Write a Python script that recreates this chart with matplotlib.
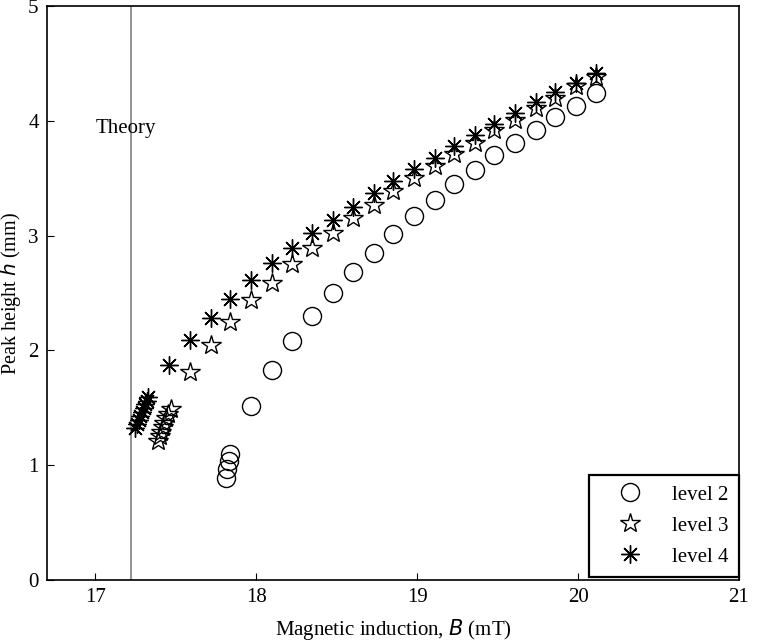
import numpy as np
import matplotlib
matplotlib.use('Agg')
import matplotlib.pyplot as plt

plt.rcParams['font.family'] = ['Liberation Serif', 'DejaVu Serif']

# Datos
B_nivel2 = [17.81, 17.82, 17.83, 17.84, 17.97, 18.10, 18.22, 18.35, 18.48, 18.60, 18.73,
            18.85, 18.98, 19.11, 19.23, 19.36, 19.48, 19.61, 19.74, 19.86, 19.99, 20.11]
h_nivel2 = [0.89, 0.97, 1.04, 1.10, 1.52, 1.83, 2.08, 2.30, 2.50, 2.68, 2.85,
            3.01, 3.17, 3.31, 3.45, 3.57, 3.70, 3.81, 3.92, 4.03, 4.13, 4.24]

B_nivel3 = [17.39, 17.40, 17.41, 17.42, 17.43, 17.44, 17.45, 17.47,
            17.59, 17.72, 17.84, 17.97, 18.10, 18.22, 18.35, 18.48, 18.60, 18.73,
            18.85, 18.98, 19.11, 19.23, 19.36, 19.48, 19.61, 19.74, 19.86, 19.99, 20.11]
h_nivel3 = [1.21, 1.25, 1.29, 1.33, 1.37, 1.41, 1.45, 1.49,
            1.81, 2.05, 2.25, 2.44, 2.59, 2.75, 2.89, 3.02, 3.15, 3.27,
            3.39, 3.50, 3.61, 3.71, 3.81, 3.92, 4.01, 4.11, 4.20, 4.30, 4.38]

B_nivel4 = [17.25, 17.26, 17.27, 17.28, 17.29, 17.30, 17.31, 17.32, 17.33,
            17.46, 17.59, 17.72, 17.84, 17.97, 18.10, 18.22, 18.35, 18.48, 18.60,
            18.73, 18.85, 18.98, 19.11, 19.23, 19.36, 19.48, 19.61, 19.74, 19.86, 19.99, 20.11]
h_nivel4 = [1.32, 1.36, 1.39, 1.43, 1.46, 1.50, 1.53, 1.56, 1.59,
            1.87, 2.09, 2.28, 2.45, 2.61, 2.76, 2.89, 3.02, 3.14, 3.25,
            3.37, 3.48, 3.58, 3.68, 3.78, 3.88, 3.97, 4.07, 4.16, 4.25, 4.33, 4.42]

B_teoria = 17.22

fig = plt.figure(figsize=(7.74, 6.42), dpi=100)
ax = fig.add_axes([0.0607, 0.0966, 0.894, 0.894])

ax.axvline(B_teoria, color='#808080', lw=1.2, zorder=1)
ax.text(17.0, 3.93, 'Theory', fontsize=15, ha='left', va='center')

ax.plot(B_nivel2, h_nivel2, 'o', ls='none', ms=13, mfc='none', mec='black', mew=1.0, label='level 2')
ax.plot(B_nivel3, h_nivel3, '*', ls='none', ms=15, mfc='none', mec='black', mew=1.0, label='level 3')
ax.plot(B_nivel4, h_nivel4, marker=(8, 2, 0), ls='none', ms=13, color='black', mew=1.0, label='level 4')

ax.set_xlim(16.7, 21)
ax.set_ylim(0, 5)
ax.set_xticks([17, 18, 19, 20, 21])
ax.set_yticks([0, 1, 2, 3, 4, 5])
ax.tick_params(direction='in', labelsize=15, length=5, width=0.8, top=False, right=False, pad=6)
ax.set_xlabel('Magnetic induction, $\\it{B}$ (mT)', fontsize=15, labelpad=7)
ax.set_ylabel('Peak height $\\it{h}$ (mm)', fontsize=14.5)
ax.yaxis.set_label_coords(-0.035, 0.5)
for s in ax.spines.values():
    s.set_linewidth(1.2)

leg = ax.legend(loc='lower right', bbox_to_anchor=(1.0, 0.005), fontsize=15,
                fancybox=False, framealpha=1, edgecolor='black', borderpad=0.5,
                labelspacing=0.55, handletextpad=0.5, borderaxespad=0, handlelength=3.0)
leg.get_frame().set_linewidth(1.6)

plt.savefig('out.png', dpi=100)
